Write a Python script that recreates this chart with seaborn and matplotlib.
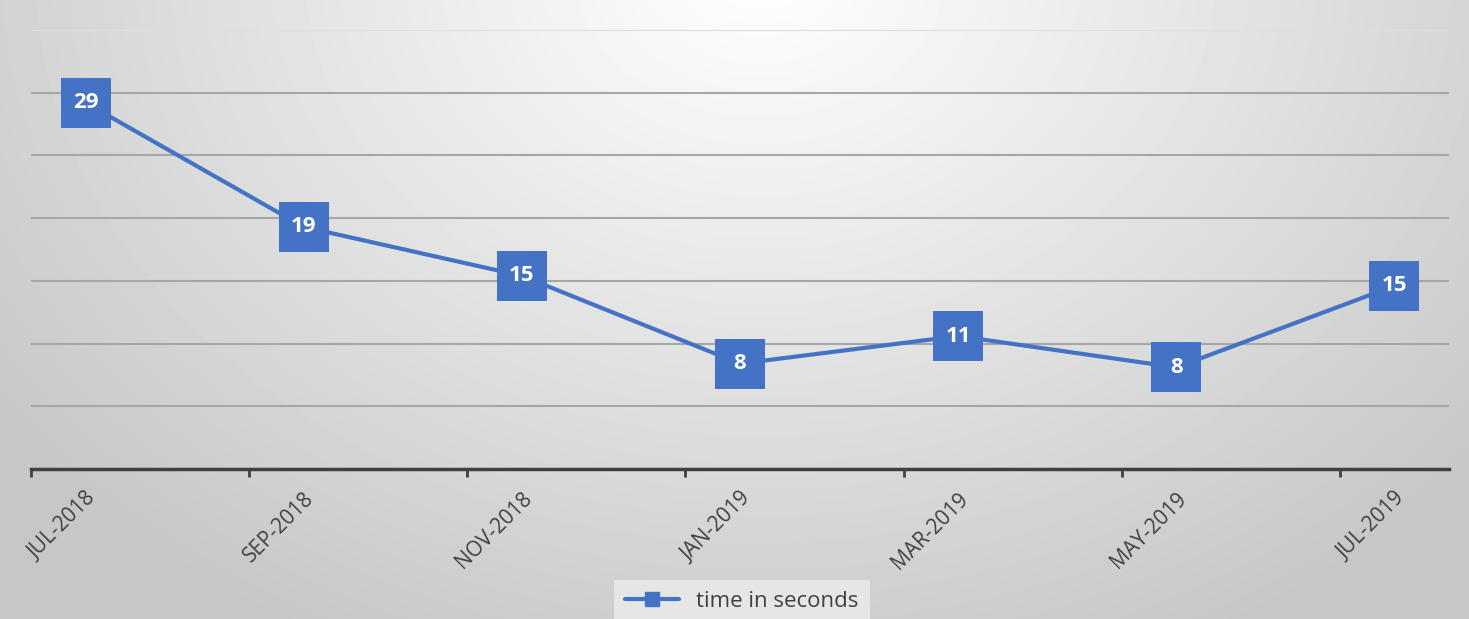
import numpy as np
import pandas as pd
import seaborn as sns
import matplotlib.pyplot as plt
from matplotlib.lines import Line2D

# Data
months = ['JUL-2018', 'SEP-2018', 'NOV-2018', 'JAN-2019', 'MAR-2019', 'MAY-2019', 'JUL-2019']
month_index = [0, 2, 4, 6, 8, 10, 12]
seconds = [29.2, 19.3, 15.4, 8.4, 10.6, 8.1, 14.6]

data = pd.DataFrame({'month': month_index, 'seconds': seconds})

blue = '#4472C4'
sns.set_theme(style='white')
plt.rcParams['font.family'] = ['Open Sans', 'DejaVu Sans']

fig = plt.figure(figsize=(14.69, 6.19), dpi=100)

# radial grey background, white at top centre
h, w = 619, 1469
yy, xx = np.mgrid[0:h, 0:w]
dist = np.sqrt(((xx - 760) / 950.0) ** 2 + ((yy + 30) / 750.0) ** 2)
shade = np.clip(1.0 - 0.22 * dist, 0.78, 1.0)
bg = fig.add_axes([0, 0, 1, 1], zorder=-1)
bg.imshow(shade, cmap='gray', vmin=0, vmax=1, aspect='auto')
bg.axis('off')

ax = fig.add_axes([31 / w, 150 / h, 1418 / w, 439 / h])
ax.patch.set_alpha(0)

sns.lineplot(data=data, x='month', y='seconds', ax=ax, color=blue,
             linewidth=3, marker='s', markersize=36, markeredgewidth=0,
             legend=False, zorder=3)

for x, v in zip(month_index, seconds):
    ax.text(x, v, f'{v:.0f}', color='white', fontsize=16, fontweight='bold',
            ha='center', va='center', zorder=4)

ax.set_xlim(-0.5, 12.5)
ax.set_ylim(0, 35)
ax.set_yticks(np.arange(0, 36, 5))
ax.set_yticklabels([])
ax.yaxis.grid(True, color='#a6a6a6', linewidth=1.5)
ax.get_ygridlines()[-1].set_color('#dedede')
ax.tick_params(axis='y', length=0)

ax.set_xticks(month_index)
ax.set_xticklabels(months, rotation=45, ha='right', rotation_mode='anchor',
                   fontsize=15, color='#404040')
ax.set_xticks(np.arange(-0.5, 13, 2), minor=True)
ax.tick_params(axis='x', which='major', length=0, pad=14)
ax.tick_params(axis='x', which='minor', length=6, width=2, color='#404040',
               direction='out', bottom=True)
ax.set_xlabel('')
ax.set_ylabel('')

for side in ['top', 'right', 'left']:
    ax.spines[side].set_visible(False)
ax.spines['bottom'].set_color('#404040')
ax.spines['bottom'].set_linewidth(2.5)

handle = Line2D([], [], color=blue, linewidth=3, marker='s', markersize=10)
fig.legend([handle], ['time in seconds'], loc='lower center',
           bbox_to_anchor=(742 / w, -0.025), frameon=True, fontsize=16,
           facecolor='#e6e6e6', edgecolor='none', framealpha=1,
           fancybox=False, handlelength=2.4, borderpad=0.5,
           labelcolor='#404040')

fig.savefig('out.png', dpi=100)
